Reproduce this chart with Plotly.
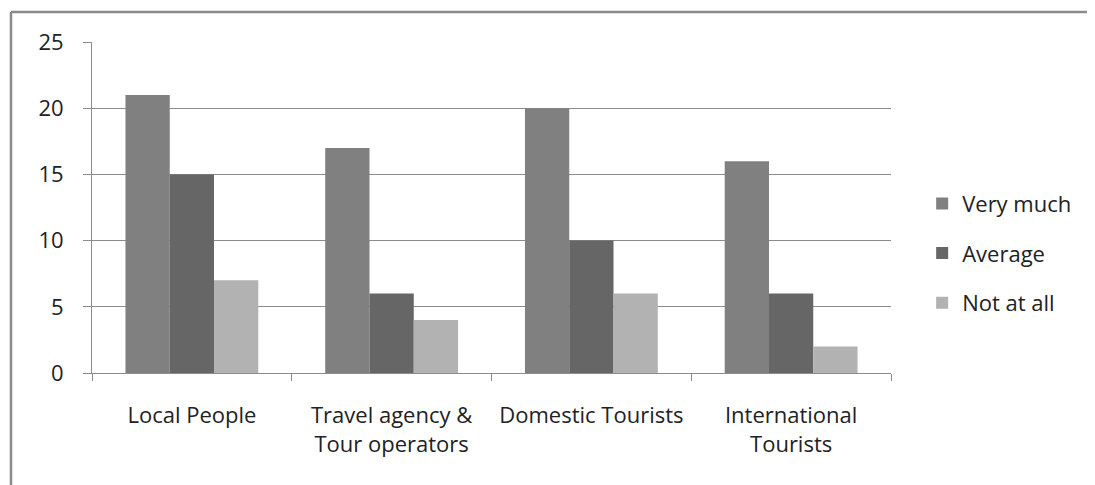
import plotly.graph_objects as go

categories = ["Local People", "Travel agency &<br>Tour operators", "Domestic Tourists", "International<br>Tourists"]
very_much = [21, 17, 20, 16]
average = [15, 6, 10, 6]
not_at_all = [7, 4, 6, 2]

series = [("Very much", very_much, "#808080"),
          ("Average", average, "#666666"),
          ("Not at all", not_at_all, "#B2B2B2")]

fig = go.Figure()
for i, (name, vals, col) in enumerate(series):
    fig.add_trace(go.Bar(x=categories, y=vals, name=name, marker_color=col,
                         marker_line_width=0, legendgroup=name))

FONT = "Open Sans, sans-serif"
FS = 22
fig.update_layout(
    width=1087, height=477,
    margin=dict(l=84, r=204, t=34, b=112),
    paper_bgcolor="white", plot_bgcolor="white",
    barmode="group", bargap=0.335, bargroupgap=0,
    font=dict(family=FONT, size=FS, color="#222222"),
    legend=dict(x=1.039, xanchor="left", y=0.575, yanchor="top",
                font=dict(size=FS, color="#222222"),
                traceorder="grouped", tracegroupgap=18,
                itemwidth=30, bgcolor="rgba(0,0,0,0)"),
    showlegend=True,
)
fig.update_xaxes(type="category", range=[-0.5, 3.5], showline=True, linecolor="#8c8c8c",
                 linewidth=1, ticks="outside", tickson="boundaries", ticklen=7,
                 tickcolor="#8c8c8c", showgrid=False, tickfont=dict(size=FS),
                 ticklabelstandoff=23)
fig.update_yaxes(range=[0, 25], dtick=5, showline=True, linecolor="#8c8c8c", linewidth=1,
                 ticks="outside", ticklen=8, tickcolor="#8c8c8c",
                 showgrid=True, gridcolor="#8c8c8c", gridwidth=1, zeroline=False,
                 tickfont=dict(size=FS), ticklabelstandoff=15)

border = dict(color="#8a8a8a", width=2.5)
fig.add_shape(type="line", xref="paper", yref="paper",
              x0=-0.1014, y0=1.0906, x1=1.4, y1=1.0906, line=border, layer="below")
fig.add_shape(type="line", xref="paper", yref="paper",
              x0=-0.1014, y0=-0.6, x1=-0.1014, y1=1.0906, line=border, layer="below")

fig.write_html("out.html")
